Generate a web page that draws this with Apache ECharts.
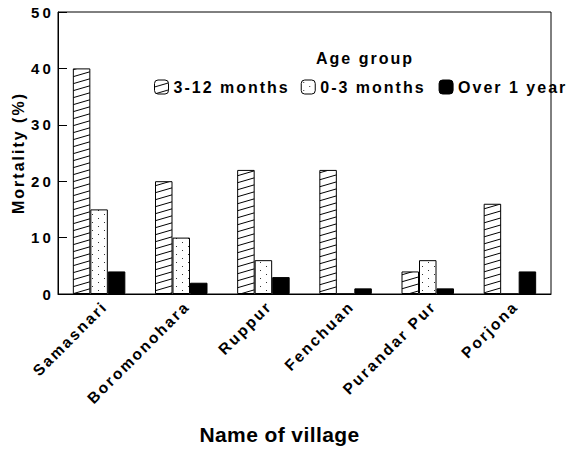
<!DOCTYPE html>
<html>
<head>
<meta charset="utf-8">
<script src="https://cdn.jsdelivr.net/npm/echarts@6/dist/echarts.min.js"></script>
<style>
  html, body { margin: 0; padding: 0; background: #fff; }
  #chart { width: 569px; height: 450px; }
</style>
</head>
<body>
<div id="chart"></div>
<script>
// Villages and infant mortality (%) by age group
const villages = ['Samasnari', 'Boromonohara', 'Ruppur', 'Fenchuan', 'Purandar Pur', 'Porjona'];
const months3to12 = [40, 20, 22, 22, 4, 16];
const months0to3 = [15, 10, 6, 0, 6, 0];
const overOneYear = [4, 2, 3, 1, 1, 4];
const yTicks = { min: 0, max: 50, interval: 10 };

const FONT = 'Liberation Sans, Arial, Helvetica, sans-serif';

// Font sizes used below, and the tracking each one is drawn with
const SIZE_YTICK = 15, SIZE_XLABEL = 15.5, SIZE_TEXT = 16, SIZE_XNAME = 21;
const tracking = { 15: 3.2, 15.5: 2.2, 16: 2, 21: 0.4 };

// Diagonal hatch tile
function hatchTile() {
  const w = 24, h = 7;
  const c = document.createElement('canvas');
  c.width = w; c.height = h;
  const g = c.getContext('2d');
  g.fillStyle = '#fff';
  g.fillRect(0, 0, w, h);
  g.strokeStyle = '#000';
  g.lineWidth = 1;
  for (const dy of [-h, 0, h]) {
    g.beginPath();
    g.moveTo(0, h + dy);
    g.lineTo(w, dy);
    g.stroke();
  }
  return { image: c, repeat: 'repeat', imageWidth: w, imageHeight: h };
}

// Sparse stippled tile
function dotTile() {
  const w = 12, h = 8;
  const c = document.createElement('canvas');
  c.width = w; c.height = h;
  const g = c.getContext('2d');
  g.fillStyle = '#fff';
  g.fillRect(0, 0, w, h);
  g.fillStyle = '#333';
  g.fillRect(2, 2, 1, 1);
  g.fillRect(8, 6, 1, 1);
  return { image: c, repeat: 'repeat', imageWidth: w, imageHeight: h };
}

const chartEl = document.getElementById('chart');
const chart = echarts.init(chartEl, null, { renderer: 'svg' });

const barBase = {
  type: 'bar',
  barWidth: 17.5,
  barGap: '0%'
};

chart.setOption({
  backgroundColor: '#fff',
  animation: false,
  textStyle: { fontFamily: FONT, color: '#000' },
  grid: {
    left: 58, right: 18, top: 12, bottom: 155,
    show: true, borderColor: '#000', borderWidth: 1, backgroundColor: 'transparent'
  },
  graphic: [{
    type: 'text',
    left: 316,
    top: 50,
    style: { text: 'Age group', font: 'bold ' + SIZE_TEXT + 'px ' + FONT, fill: '#000' }
  }],
  legend: {
    left: 154,
    top: 79,
    padding: 0,
    itemWidth: 14,
    itemHeight: 14,
    itemGap: 33,
    itemStyle: { borderColor: '#000', borderWidth: 1 },
    textStyle: { fontFamily: FONT, fontWeight: 'bold', fontSize: SIZE_TEXT, color: '#000' },
    data: ['3-12 months', '0-3 months', 'Over 1 year']
  },
  xAxis: {
    type: 'category',
    data: villages,
    name: 'Name of village',
    nameLocation: 'middle',
    nameGap: 130,
    nameTextStyle: {
      fontFamily: FONT, fontWeight: 'bold', fontSize: SIZE_XNAME, color: '#000',
      padding: [0, 50, 0, 0]
    },
    axisLine: { lineStyle: { color: '#000', width: 1 } },
    axisTick: { show: false },
    axisLabel: {
      rotate: 45, margin: 4, interval: 0, verticalAlign: 'top',
      fontFamily: FONT, fontWeight: 'bold', fontSize: SIZE_XLABEL, color: '#000'
    }
  },
  yAxis: {
    type: 'value',
    min: yTicks.min, max: yTicks.max, interval: yTicks.interval,
    name: 'Mortality (%)',
    nameLocation: 'middle',
    nameRotate: 90,
    nameGap: 31,
    nameTextStyle: { fontFamily: FONT, fontWeight: 'bold', fontSize: SIZE_TEXT, color: '#000' },
    axisLine: { show: true, lineStyle: { color: '#000', width: 1 } },
    axisTick: { show: true, inside: true, length: 9, lineStyle: { color: '#000' } },
    splitLine: { show: false },
    axisLabel: { margin: 4, fontFamily: FONT, fontWeight: 'bold', fontSize: SIZE_YTICK, color: '#000' }
  },
  series: [
    Object.assign({}, barBase, {
      name: '3-12 months', data: months3to12,
      itemStyle: { color: hatchTile(), borderColor: '#000', borderWidth: 1 }
    }),
    Object.assign({}, barBase, {
      name: '0-3 months', data: months0to3,
      itemStyle: { color: dotTile(), borderColor: '#000', borderWidth: 1 }
    }),
    Object.assign({}, barBase, {
      name: 'Over 1 year', data: overOneYear,
      itemStyle: { color: '#000', borderColor: '#000', borderWidth: 1 }
    })
  ]
});

// Wide tracking for the bold labels, chosen per font size
function applyTracking() {
  chartEl.querySelectorAll('text').forEach(function (t) {
    const size = parseFloat(getComputedStyle(t).fontSize);
    const sp = tracking[size];
    if (sp != null) t.style.letterSpacing = sp + 'px';
  });
}
applyTracking();
chart.on('finished', applyTracking);
</script>
</body>
</html>
